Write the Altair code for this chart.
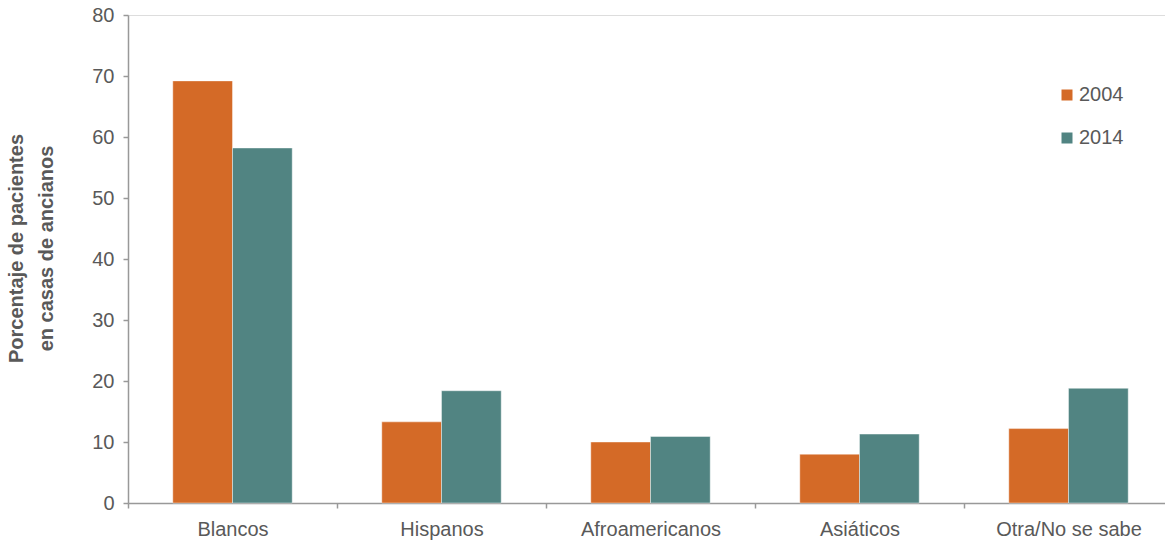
import altair as alt
import pandas as pd

# Nursing-home residents by race/ethnicity, 2004 vs 2014 (percent)
groups = ["Blancos", "Hispanos", "Afroamericanos", "Asiáticos", "Otra/No se sabe"]
years = ["2004", "2014"]
pct_2004 = [69.2, 13.3, 10.0, 8.0, 12.2]
pct_2014 = [58.2, 18.4, 10.9, 11.3, 18.8]

colors = ["#D46A27", "#518482"]
font = "Liberation Sans"
label_color = "#595959"
axis_color = "#999999"

rows = []
for g, a, b in zip(groups, pct_2004, pct_2014):
    rows.append({"grupo": g, "año": years[0], "pct": a})
    rows.append({"grupo": g, "año": years[1], "pct": b})
df = pd.DataFrame(rows)

chart = (
    alt.Chart(df)
    .mark_bar(stroke="#FFFFFF", strokeWidth=0.6, strokeOpacity=0.7)
    .encode(
        x=alt.X(
            "grupo:N",
            sort=groups,
            scale=alt.Scale(range=[0, 1045], paddingInner=0, paddingOuter=0),
            axis=alt.Axis(
                title=None,
                labelAngle=0,
                labelFont=font,
                labelFontSize=20,
                labelColor=label_color,
                labelPadding=11,
                tickBand="extent",
                tickSize=5,
                tickColor=axis_color,
                tickWidth=1.5,
                domainColor=axis_color,
                domainWidth=1.5,
            ),
        ),
        xOffset=alt.XOffset(
            "año:N",
            sort=years,
            scale=alt.Scale(paddingInner=0, paddingOuter=0.75),
        ),
        y=alt.Y(
            "pct:Q",
            scale=alt.Scale(domain=[0, 80], nice=False),
            axis=alt.Axis(
                title=["Porcentaje de pacientes", "en casas de ancianos"],
                values=[0, 10, 20, 30, 40, 50, 60, 70, 80],
                labelFont=font,
                labelFontSize=20,
                labelColor=label_color,
                labelPadding=9,
                tickSize=5,
                tickColor=axis_color,
                tickWidth=1.5,
                domainColor=axis_color,
                domainWidth=1.5,
                grid=False,
                titleFont=font,
                titleFontSize=20,
                titleFontWeight="bold",
                titleColor=label_color,
                titleLineHeight=30,
                titleX=-106,
                titleY=233,
                titleAlign="center",
                titleBaseline="alphabetic",
                titleAngle=-90,
            ),
        ),
        color=alt.Color(
            "año:N",
            sort=years,
            scale=alt.Scale(domain=years, range=colors),
            legend=alt.Legend(
                title=None,
                orient="none",
                legendX=929,
                legendY=70,
                symbolType="square",
                symbolSize=121,
                symbolStrokeWidth=0,
                symbolOpacity=1,
                labelFont=font,
                labelFontSize=20,
                labelColor=label_color,
                labelOffset=2,
                rowPadding=23,
                padding=0,
            ),
        ),
    )
    .properties(
        width=1037,
        height=488,
        autosize=alt.AutoSizeParams(type="none"),
        padding={"left": 128, "top": 15, "right": 0, "bottom": 38},
    )
    .configure_view(stroke=None)
    .configure(background="white")
)

chart.save("out.html", embed_options={"renderer": "svg", "actions": False})
